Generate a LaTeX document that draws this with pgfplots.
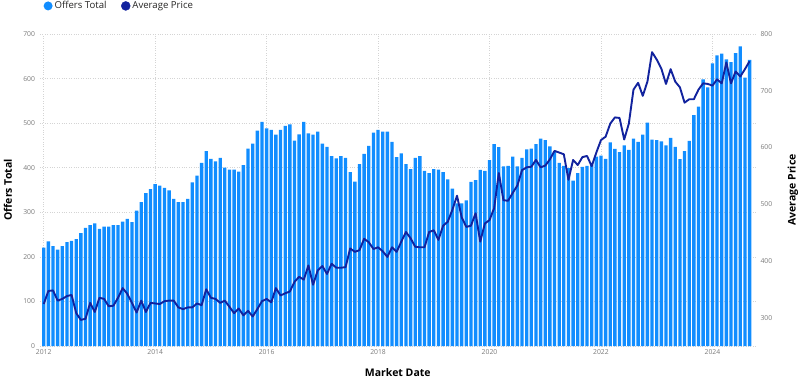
\documentclass[border=0pt]{standalone}
\usepackage{fontspec}
\setmainfont{Open Sans}
\usepackage{pgfplots}
\usepackage{pgfplotstable}
\pgfplotsset{compat=1.18}
\definecolor{barblue}{HTML}{118DFF}
\definecolor{lineblue}{HTML}{12239E}
\definecolor{tickgray}{HTML}{7A7A7A}
\definecolor{gridgray}{HTML}{D4D4D4}
\definecolor{titlegray}{HTML}{252423}

\pgfplotstableread{
i offers price
0 221 324
1 235 347
2 224 348
3 216 330
4 224 333
5 233 338
6 236 340
7 240 308
8 253 296
9 265 298
10 271 326
11 275 310
12 263 335
13 268 333
14 268 320
15 271 321
16 271 335
17 279 352
18 285 342
19 278 326
20 304 309
21 323 330
22 343 310
23 352 326
24 363 325
25 360 324
26 355 329
27 349 330
28 330 330
29 323 318
30 323 315
31 330 318
32 367 318
33 382 325
34 411 322
35 437 350
36 420 335
37 414 333
38 422 326
39 400 330
40 396 319
41 396 308
42 391 316
43 406 304
44 443 312
45 454 302
46 483 315
47 503 329
48 488 333
49 485 327
50 474 352
51 485 339
52 494 343
53 497 346
54 461 363
55 475 372
56 503 367
57 477 392
58 474 358
59 481 383
60 454 391
61 447 377
62 426 395
63 421 388
64 426 388
65 422 389
66 390 422
67 369 416
68 408 419
69 431 439
70 449 433
71 479 421
72 485 424
73 481 417
74 481 407
75 458 424
76 424 416
77 432 434
78 408 451
79 397 440
80 422 425
81 426 424
82 393 424
83 388 451
84 397 454
85 396 437
86 390 462
87 374 469
88 353 490
89 320 515
90 320 477
91 327 460
92 368 462
93 372 484
94 395 434
95 393 466
96 417 472
97 453 493
98 446 555
99 403 507
100 404 506
101 425 520
102 403 533
103 422 560
104 441 565
105 443 566
106 453 578
107 465 565
108 462 568
109 448 579
110 436 594
111 411 591
112 404 588
113 399 543
114 371 578
115 388 569
116 402 583
117 404 585
118 407 567
119 425 591
120 427 613
121 420 619
122 457 642
123 442 653
124 435 652
125 450 614
126 440 642
127 465 702
128 458 714
129 474 691
130 501 716
131 463 768
132 462 755
133 459 739
134 450 712
135 467 738
136 447 716
137 419 706
138 437 679
139 460 685
140 518 685
141 537 702
142 598 713
143 580 712
144 634 709
145 652 720
146 656 713
147 643 750
148 637 713
149 657 734
150 672 725
151 602 738
152 642 752
}\data

\begin{document}
\begin{tikzpicture}
\useasboundingbox (0,0) rectangle (800pt,381pt);
\pgfplotsset{
  base/.style={
    at={(40pt,35pt)}, anchor=south west,
    scale only axis, width=717pt, height=312pt,
    xmin=-0.8, xmax=153.6,
    axis line style={draw=none},
    tick style={draw=none},
    ticklabel style={font=\fontsize{6.8}{8}\selectfont, text=tickgray},
    /pgf/number format/assume math mode=true,
    label style={font=\bfseries\fontsize{10.5}{12}\selectfont, text=black},
  }
}
\begin{axis}[base,
  ymin=0, ymax=700, ytick={0,100,...,700},
  xtick={0,24,48,72,96,120,144},
  xticklabels={2012,2014,2016,2018,2020,2022,2024},
  ymajorgrids, xmajorgrids,
  grid style={gridgray, dotted, line width=0.7pt},
  yticklabel style={xshift=-1.5pt},
  ylabel={Offers Total},
  ylabel style={at={(axis description cs:-0.0446,0.5)}, anchor=center},
  xlabel={Market Date},
  xlabel style={at={(axis description cs:0.499,-0.0865)}, anchor=center},
  legend style={at={(axis description cs:0,1.09)}, anchor=west, draw=none, fill=none,
    inner sep=0pt, xshift=3.4pt,
    font=\fontsize{9.6}{11}\selectfont, text=titlegray,
    /tikz/every even column/.append style={column sep=12.5pt}},
  legend columns=2,
]
\addplot[ybar, bar width=0.72, fill=barblue, draw=none,
  legend image code/.code={\fill[barblue] (0pt,0pt) circle (4.5pt);}]
  table[x=i, y=offers]{\data};
\addlegendentry{Offers Total}
\addlegendimage{legend image code/.code={\fill[lineblue] (0pt,0pt) circle (4.5pt);}}
\addlegendentry{Average Price}
\end{axis}
\begin{axis}[base,
  ymin=250, ymax=800, ytick={300,400,...,800},
  axis y line*=right, hide x axis,
  yticklabel style={xshift=0pt},
  ylabel={Average Price},
  ylabel style={at={(axis description cs:1.0502,0.5)}, anchor=center},
]
\addplot[lineblue, line width=1.9pt, line join=round] table[x=i, y=price]{\data};
\end{axis}
\end{tikzpicture}
\end{document}
